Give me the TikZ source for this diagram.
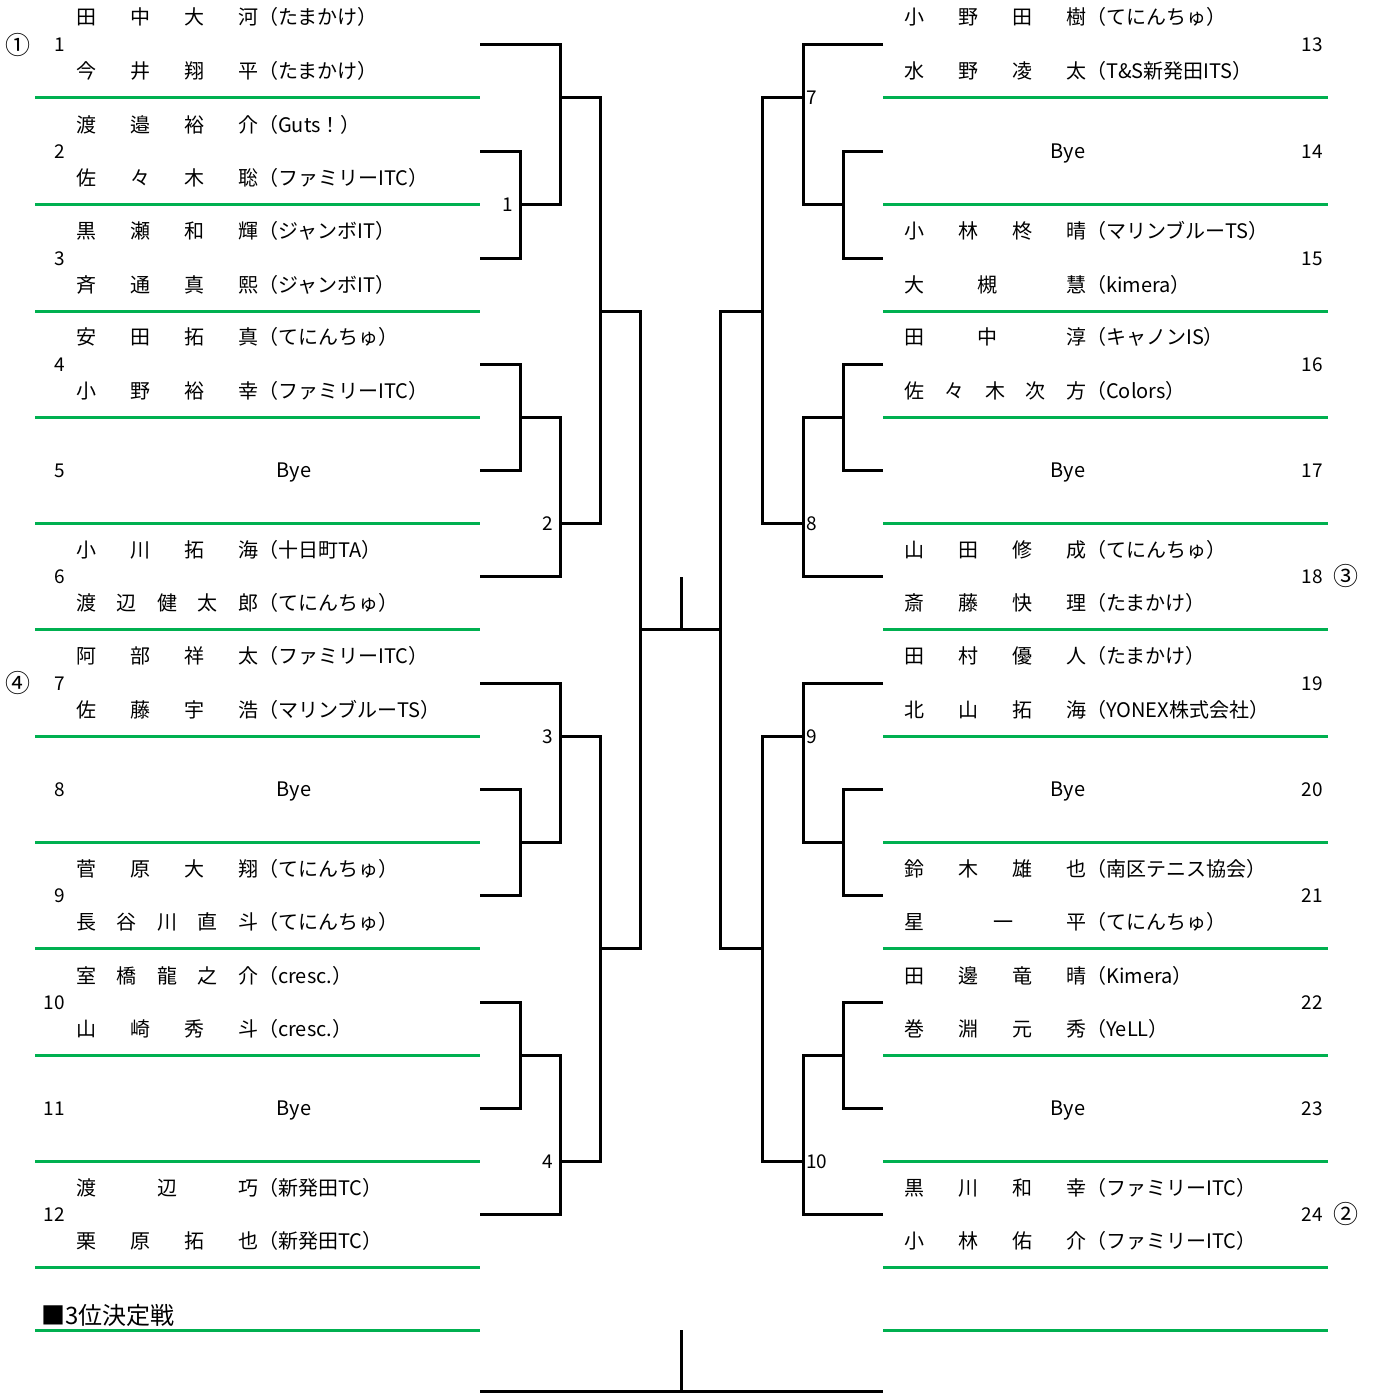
\documentclass[tikz,border=0pt]{standalone}
\usepackage{fontspec}
\setmainfont{Noto Sans CJK JP}
\definecolor{grn}{RGB}{0,176,80}
\tikzset{
  br/.style={line width=3pt, draw=black},
  gl/.style={line width=3pt, draw=grn},
  tx/.style={inner sep=0pt, text height=17pt, text depth=3pt, font=\fontsize{20}{24}\selectfont},
  lab/.style={tx, font=\fontsize{19}{22}\selectfont},
  seed/.style={inner sep=0pt, font=\fontsize{25}{28}\selectfont},
}
% four-character name + team
\newcommand\PF[8]{%
  \node[tx] (#1-1) at (#2,#3) {#4};
  \node[tx] (#1-2) at ({#2+54},#3) {#5};
  \node[tx] (#1-3) at ({#2+108},#3) {#6};
  \node[tx] (#1-4) at ({#2+162},#3) {#7};
  \node[tx,anchor=west] (#1-t) at ({#2+172},#3) {#8};}
% five-character name + team
\newcommand\PV[9]{%
  \node[tx] (#1-1) at (#2,#3) {#4};
  \node[tx] (#1-2) at ({#2+40.5},#3) {#5};
  \node[tx] (#1-3) at ({#2+81},#3) {#6};
  \node[tx] (#1-4) at ({#2+121.5},#3) {#7};
  \node[tx] (#1-5) at ({#2+162},#3) {#8};
  \node[tx,anchor=west] (#1-t) at ({#2+172},#3) {#9};}
% three-character name + team (middle offset given)
\newcommand\PT[8]{%
  \node[tx] (#1-1) at (#2,#3) {#4};
  \node[tx] (#1-2) at ({#2+#7},#3) {#5};
  \node[tx] (#1-3) at ({#2+162},#3) {#6};
  \node[tx,anchor=west] (#1-t) at ({#2+172},#3) {#8};}
\begin{document}
\begin{tikzpicture}[x=1pt,y=-1pt]
\useasboundingbox (0,0) rectangle (1375,1394);

% ---------- green separator lines ----------
\foreach \yy in {98,204,311,417,523,629,736,842,948,1055,1161,1267,1330} {
  \draw[gl] (35,\yy) -- (480,\yy);
  \draw[gl] (883,\yy) -- (1328,\yy);
}

% ---------- left entries ----------
\PF{L1a}{86}{18}{田}{中}{大}{河}{（たまかけ）}
\PF{L1b}{86}{72}{今}{井}{翔}{平}{（たまかけ）}
\PF{L2a}{86}{125}{渡}{邉}{裕}{介}{（Guts！）}
\PF{L2b}{86}{178}{佐}{々}{木}{聡}{（ファミリーITC）}
\PF{L3a}{86}{231}{黒}{瀬}{和}{輝}{（ジャンボIT）}
\PF{L3b}{86}{285}{斉}{通}{真}{熙}{（ジャンボIT）}
\PF{L4a}{86}{337}{安}{田}{拓}{真}{（てにんちゅ）}
\PF{L4b}{86}{391}{小}{野}{裕}{幸}{（ファミリーITC）}
\node[tx] (L5) at (294,470) {Bye};
\PF{L6a}{86}{550}{小}{川}{拓}{海}{（十日町TA）}
\PV{L6b}{86}{603}{渡}{辺}{健}{太}{郎}{（てにんちゅ）}
\PF{L7a}{86}{656}{阿}{部}{祥}{太}{（ファミリーITC）}
\PF{L7b}{86}{710}{佐}{藤}{宇}{浩}{（マリンブルーTS）}
\node[tx] (L8) at (294,789) {Bye};
\PF{L9a}{86}{869}{菅}{原}{大}{翔}{（てにんちゅ）}
\PV{L9b}{86}{922}{長}{谷}{川}{直}{斗}{（てにんちゅ）}
\PV{L10a}{86}{976}{室}{橋}{龍}{之}{介}{（cresc.）}
\PF{L10b}{86}{1029}{山}{崎}{秀}{斗}{（cresc.）}
\node[tx] (L11) at (294,1108) {Bye};
\PT{L12a}{86}{1188}{渡}{辺}{巧}{81}{（新発田TC）}
\PF{L12b}{86}{1241}{栗}{原}{拓}{也}{（新発田TC）}

% ---------- right entries ----------
\PF{R13a}{914}{18}{小}{野}{田}{樹}{（てにんちゅ）}
\PF{R13b}{914}{72}{水}{野}{凌}{太}{（T\&S新発田ITS）}
\node[tx] (R14) at (1068,151) {Bye};
\PF{R15a}{914}{231}{小}{林}{柊}{晴}{（マリンブルーTS）}
\PT{R15b}{914}{285}{大}{槻}{慧}{73}{（kimera）}
\PT{R16a}{914}{337}{田}{中}{淳}{73}{（キャノンIS）}
\PV{R16b}{914}{391}{佐}{々}{木}{次}{方}{（Colors）}
\node[tx] (R17) at (1068,470) {Bye};
\PF{R18a}{914}{550}{山}{田}{修}{成}{（てにんちゅ）}
\PF{R18b}{914}{603}{斎}{藤}{快}{理}{（たまかけ）}
\PF{R19a}{914}{656}{田}{村}{優}{人}{（たまかけ）}
\PF{R19b}{914}{710}{北}{山}{拓}{海}{（YONEX株式会社）}
\node[tx] (R20) at (1068,789) {Bye};
\PF{R21a}{914}{869}{鈴}{木}{雄}{也}{（南区テニス協会）}
\PT{R21b}{914}{922}{星}{一}{平}{89}{（てにんちゅ）}
\PF{R22a}{914}{976}{田}{邊}{竜}{晴}{（Kimera）}
\PF{R22b}{914}{1029}{巻}{淵}{元}{秀}{（YeLL）}
\node[tx] (R23) at (1068,1108) {Bye};
\PF{R24a}{914}{1188}{黒}{川}{和}{幸}{（ファミリーITC）}
\PF{R24b}{914}{1241}{小}{林}{佑}{介}{（ファミリーITC）}

% ---------- draw numbers ----------
\foreach \n/\yy in {1/45,2/151,3/258,4/364,5/470,6/576,7/683,8/789,9/895,10/1002,11/1108,12/1214}
  \node[lab,anchor=east] (num\n) at (65,\yy) {\n};
\foreach \n/\yy in {13/45,14/151,15/258,16/364,17/470,18/576,19/683,20/789,21/895,22/1002,23/1108,24/1214}
  \node[lab,anchor=east] (num\n) at (1323,\yy) {\n};
\node[seed] (seed1) at (18,45) {①};
\node[seed] (seed4) at (18,683) {④};
\node[seed] (seed3) at (1346,576) {③};
\node[seed] (seed2) at (1346,1214) {②};

% ---------- bracket coordinates ----------
\foreach \n/\yy in {1/45,2/151,3/258,4/364,5/470,6/576,7/683,8/789,9/895,10/1002,11/1108,12/1214}
  \coordinate (e\n) at (480,\yy);
\foreach \n/\yy in {13/45,14/151,15/258,16/364,17/470,18/576,19/683,20/789,21/895,22/1002,23/1108,24/1214}
  \coordinate (e\n) at (883,\yy);
% left first round
\coordinate (a1) at (520,204);
\coordinate (a2) at (520,417);
\coordinate (a3) at (520,842);
\coordinate (a4) at (520,1055);
% left second round
\coordinate (b1) at (560,98);
\coordinate (b2) at (560,523);
\coordinate (b3) at (560,736);
\coordinate (b4) at (560,1161);
% left semis
\coordinate (c1) at (600,311);
\coordinate (c2) at (600,948);
% final
\coordinate (f) at (640,629);
\coordinate (g) at (720,629);
\coordinate (stem) at (681,577);
% right
\coordinate (p1) at (843,204);
\coordinate (p2) at (843,417);
\coordinate (p3) at (843,842);
\coordinate (p4) at (843,1055);
\coordinate (q1) at (803,98);
\coordinate (q2) at (803,523);
\coordinate (q3) at (803,736);
\coordinate (q4) at (803,1161);
\coordinate (r1) at (762,311);
\coordinate (r2) at (762,948);

\begin{scope}[br]
\draw (e2) -| (a1) |- (e3);
\draw (e4) -| (a2) |- (e5);
\draw (e8) -| (a3) |- (e9);
\draw (e10) -| (a4) |- (e11);
\draw (e1) -| (b1) |- (a1);
\draw (a2) -| (b2) |- (e6);
\draw (e7) -| (b3) |- (a3);
\draw (a4) -| (b4) |- (e12);
\draw (b1) -| (c1) |- (b2);
\draw (b3) -| (c2) |- (b4);
\draw (c1) -| (f) |- (c2);
\draw (f) -- (g);
\draw (stem) -- (stem |- f);
\draw (e14) -| (p1) |- (e15);
\draw (e16) -| (p2) |- (e17);
\draw (e20) -| (p3) |- (e21);
\draw (e22) -| (p4) |- (e23);
\draw (e13) -| (q1) |- (p1);
\draw (p2) -| (q2) |- (e18);
\draw (e19) -| (q3) |- (p3);
\draw (p4) -| (q4) |- (e24);
\draw (q1) -| (r1) |- (q2);
\draw (q3) -| (r2) |- (q4);
\draw (r1) -| (g) |- (r2);
\end{scope}

% match labels
\node[lab] (m1) at (508,204) {1};
\node[lab] (m2) at (548,523) {2};
\node[lab] (m3) at (548,736) {3};
\node[lab] (m4) at (548,1161) {4};
\node[lab] (m7) at (812,98) {7};
\node[lab] (m8) at (812,523) {8};
\node[lab] (m9) at (812,736) {9};
\node[lab,anchor=west] (m10) at (806,1161) {10};

% ---------- third place ----------
\node[inner sep=0pt,anchor=west,font=\fontsize{24}{28}\selectfont] (third) at (41,1315) {■3位決定戦};
\coordinate (t1) at (480,1391);
\coordinate (t2) at (883,1391);
\coordinate (t3) at (681,1330);
\draw[br] (t1) -- (t2);
\draw[br] (t3) -- (t3 |- t1);
\end{tikzpicture}
\end{document}
